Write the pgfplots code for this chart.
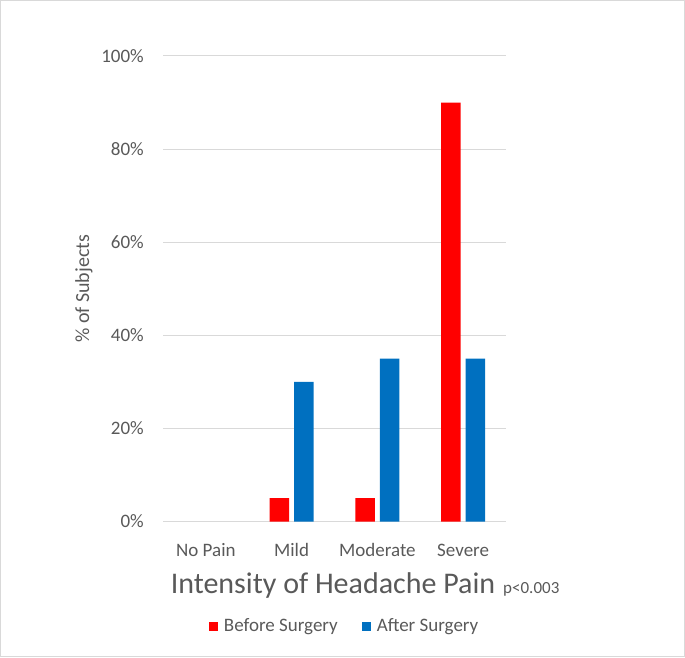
\documentclass[border=0pt]{standalone}
\usepackage{pgfplots}
\pgfplotsset{compat=1.18}
\usepackage{fontspec}
\setmainfont{Carlito}
\definecolor{txt}{HTML}{595959}
\definecolor{gridc}{HTML}{D9D9D9}
\definecolor{bred}{HTML}{FF0000}
\definecolor{bblue}{HTML}{0070C0}
\begin{document}
\begin{tikzpicture}[x=1pt,y=1pt]
\draw[color=gridc, line width=1pt] (0.5,0.5) rectangle (684.5,656.5);
\begin{axis}[
  at={(163pt,135.5pt)}, anchor=south west,
  scale only axis, width=343pt, height=465.5pt,
  xmin=-0.5, xmax=3.5, ymin=0, ymax=100,
  clip mode=individual,
  axis line style={draw=none},
  tick style={draw=none},
  ymajorgrids, major grid style={color=gridc, line width=1pt},
  ybar, bar width=19.5pt,
  legend image code/.code={\fill[#1] (0pt,0pt) rectangle (9pt,9pt);},
  xtick={0,1,2,3}, xticklabels={No Pain, Mild, Moderate, Severe},
  ytick={0,20,...,100}, yticklabel={\pgfmathprintnumber{\tick}\%},
  /pgf/number format/assume math mode=true,
  ticklabel style={font=\fontsize{19}{22}\selectfont, text=txt},
  xticklabel style={anchor=base, yshift=-30.5pt, inner sep=0pt},
  yticklabel style={anchor=east, xshift=-19pt, inner sep=0pt},
  xlabel={Intensity of Headache Pain},
  xlabel style={at={(axis description cs:0.4956,-0.1557)}, anchor=base, font=\fontsize{30}{34}\selectfont, text=txt, inner sep=0pt},
  ylabel={\% of Subjects},
  ylabel style={at={(axis description cs:-0.2303,0.5)}, anchor=center, font=\fontsize{20}{24}\selectfont, text=txt, inner sep=0pt},
  legend columns=2,
  legend style={draw=none, fill=none, inner sep=0pt, outer sep=0pt,
    at={(axis description cs:0.134,-0.2387)}, anchor=south west,
    font=\fontsize{19}{22}\selectfont, text=txt,
    cells={anchor=base west}, nodes={inner sep=0pt},
    /tikz/every odd column/.append style={column sep=6pt},
    /tikz/every even column/.append style={column sep=24pt}},
]
\addplot[fill=bred, draw=none, bar shift=-12.2pt] coordinates {(1,5) (2,5) (3,90)};
\addplot[fill=bblue, draw=none, bar shift=12.2pt] coordinates {(1,30) (2,35) (3,35)};
\legend{Before Surgery, After Surgery}
\node[anchor=base west, font=\fontsize{17}{20}\selectfont, text=txt, inner sep=0pt] at (axis description cs:0.9913,-0.1557) {p<0.003};
\end{axis}
\end{tikzpicture}
\end{document}
